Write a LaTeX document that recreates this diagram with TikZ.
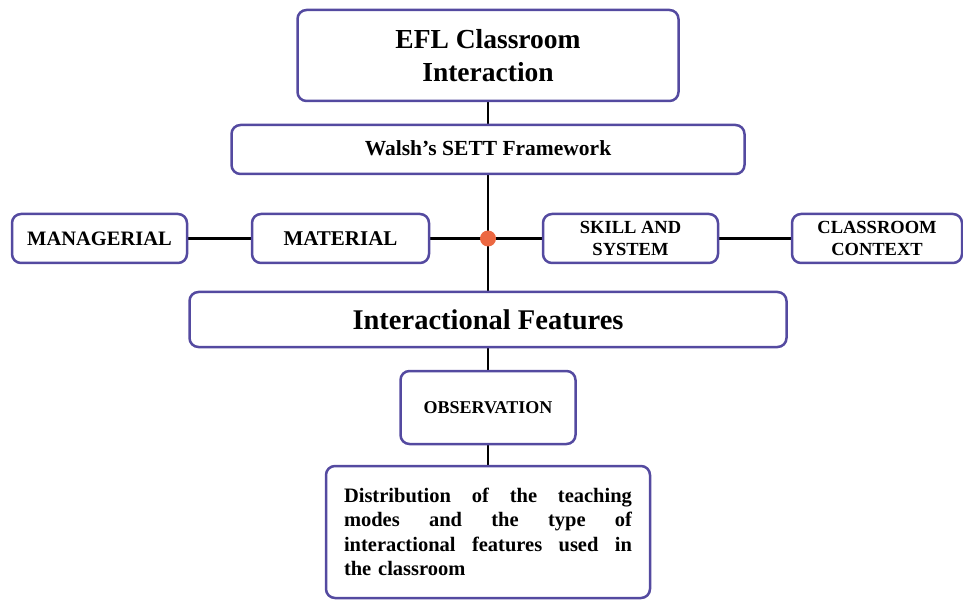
\documentclass[tikz,border=0pt]{standalone}
\usepackage{fontspec}
\setmainfont{Liberation Serif}
\usetikzlibrary{backgrounds}
\definecolor{frame}{RGB}{84,74,160}
\definecolor{hubdot}{RGB}{236,104,66}
\tikzset{
  box/.style={draw=frame, line width=2.5pt, rounded corners=9pt, fill=white,
              inner sep=0pt, align=center},
  link/.style={draw=black, line width=2.6pt},
}
\newcommand{\fs}[2]{\fontsize{#1}{#2}\selectfont\bfseries}
% one justified line of fixed width
\newcommand{\jline}[1]{\leavevmode\hbox to 288pt{#1}}
\begin{document}
\begin{tikzpicture}[x=1pt,y=-1pt]
\useasboundingbox (0,0) rectangle (963,601);

% top of the hierarchy
\node[box, minimum width=381pt, minimum height=91pt, font=\fs{27.5}{33}]
  (efl) at (488,55.5) {EFL Classroom\\Interaction};
\node[box, minimum width=513pt, minimum height=49pt, font=\fs{21.5}{25}]
  (walsh) at (488,149.5) {\raisebox{3pt}{Walsh's SETT Framework}};

% the four modes
\node[box, minimum width=175pt, minimum height=49pt, font=\fs{20.5}{24}]
  (manag) at (99.5,238.5) {MANAGERIAL};
\node[box, minimum width=177pt, minimum height=49pt, font=\fs{21}{24}]
  (mater) at (340.5,238.5) {MATERIAL};
\node[box, minimum width=175pt, minimum height=49pt, font=\fs{18.5}{22}]
  (skill) at (630.5,238.5) {SKILL AND\\SYSTEM};
\node[box, minimum width=170pt, minimum height=49pt, font=\fs{18.5}{22}]
  (ctx) at (877,238.5) {CLASSROOM\\CONTEXT};

% junction of the modes
\node[circle, fill=hubdot, minimum size=16pt, inner sep=0pt] (hub) at (488,238.5) {};

% lower part
\node[box, minimum width=597pt, minimum height=55pt, font=\fs{28.5}{32}]
  (feat) at (488,319.5) {Interactional Features};
\node[box, minimum width=175pt, minimum height=73pt, font=\fs{18}{22}]
  (obs) at (488,407.5) {OBSERVATION};
\node[box, minimum width=324pt, minimum height=132pt, text width=288pt,
      align=left, font=\fs{20.5}{24.5}]
  (dist) at (488,532)
  {\jline{Distribution\hfil of\hfil the\hfil teaching}\\
   \jline{modes\hfil and\hfil the\hfil type\hfil of}\\
   \jline{interactional\hfil features\hfil used\hfil in}\\
   the classroom};

\begin{scope}[on background layer]
  \draw[link] (efl.south) -- (walsh.north);
  \draw[link] (walsh.south) -- (hub.center);
  \draw[link] (hub.center) -- (feat.north);
  \draw[link] (manag.east) -- (mater.west);
  \draw[link] (mater.east) -- (hub.center);
  \draw[link] (hub.center) -- (skill.west);
  \draw[link] (skill.east) -- (ctx.west);
  \draw[link] (feat.south) -- (obs.north);
  \draw[link] (obs.south) -- (dist.north);
\end{scope}
\end{tikzpicture}
\end{document}
